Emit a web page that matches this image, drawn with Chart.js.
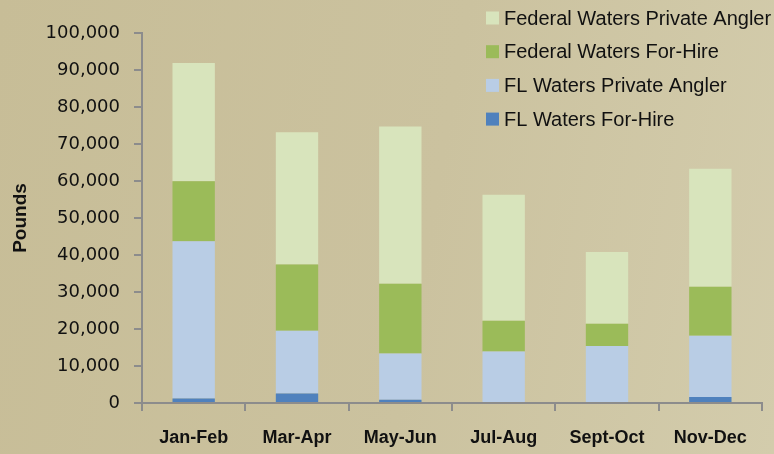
<!DOCTYPE html>
<html>
<head>
<meta charset="utf-8">
<script src="https://cdn.jsdelivr.net/npm/chart.js@4"></script>
<style>
html,body{margin:0;padding:0;width:774px;height:454px;overflow:hidden;
background:linear-gradient(100deg,#c7bd97 0%,#cbc29f 55%,#d3ccac 100%);}
#wrap{position:relative;width:774px;height:454px;}
</style>
</head>
<body>
<div id="wrap"><canvas id="c" width="774" height="454"></canvas></div>
<script>
const categories = ["Jan-Feb","Mar-Apr","May-Jun","Jul-Aug","Sept-Oct","Nov-Dec"];
const flForHire = [1200, 2600, 900, 0, 0, 1600];
const flPrivate = [42500, 16900, 12500, 13900, 15400, 16600];
const fedForHire = [16200, 17900, 18800, 8300, 6000, 13200];
const fedPrivate = [32000, 35800, 42500, 34100, 19400, 31900];
const seriesNames = ["FL Waters For-Hire","FL Waters Private Angler","Federal Waters For-Hire","Federal Waters Private Angler"];
const seriesColors = ["#4f81bd","#b9cde5","#9bbb59","#d8e4bc"];
const yTicks = [0,10000,20000,30000,40000,50000,60000,70000,80000,90000,100000];

const legendPlugin = {
  id: 'customLegend',
  afterDraw(chart) {
    const ctx = chart.ctx;
    const ds = chart.data.datasets.slice().reverse();
    ctx.save();
    ctx.font = '20px "Liberation Sans", Arial, sans-serif';
    ctx.textBaseline = 'middle';
    ctx.textAlign = 'left';
    ds.forEach((d, i) => {
      const y = 18 + i * 33.7;
      ctx.fillStyle = d.backgroundColor;
      ctx.fillRect(486, y - 6.5, 13, 13);
      ctx.fillStyle = '#111';
      ctx.fillText(d.label, 504, y + 1);
    });
    ctx.restore();
  }
};

const data = [flForHire, flPrivate, fedForHire, fedPrivate];
new Chart(document.getElementById('c'), {
  type: 'bar',
  data: {
    labels: categories,
    datasets: data.map((v, i) => ({
      label: seriesNames[i],
      data: v,
      backgroundColor: seriesColors[i],
      borderWidth: 0,
      barPercentage: 0.41,
      categoryPercentage: 1
    }))
  },
  options: {
    responsive: false,
    animation: false,
    devicePixelRatio: 1,
    layout: { padding: { left: 0, right: 12, top: 33, bottom: 0 } },
    plugins: { legend: { display: false }, tooltip: { enabled: false } },
    scales: {
      x: {
        stacked: true,
        afterFit(scale) { scale.height = 51; },
        grid: { drawOnChartArea: false, drawTicks: true, tickLength: 8, color: '#8c8c8c', lineWidth: 2, offset: true },
        border: { display: true, color: '#8c8c8c', width: 2 },
        ticks: { color: '#111', padding: 16, font: { family: '"Liberation Sans", Arial, sans-serif', size: 18, weight: 'bold' } }
      },
      y: {
        stacked: true,
        min: 0, max: 100000,
        afterFit(scale) { scale.width = 142; },
        afterBuildTicks(scale) { scale.ticks = yTicks.map(v => ({ value: v })); },
        grid: { drawOnChartArea: false, drawTicks: true, tickLength: 8, color: '#8c8c8c', lineWidth: 2 },
        border: { display: true, color: '#8c8c8c', width: 2 },
        ticks: {
          color: '#111', padding: 14,
          font: { family: '"DejaVu Sans", sans-serif', size: 18 },
          callback: v => v.toLocaleString('en-US')
        },
        title: { display: true, text: 'Pounds', color: '#111', padding: { top: 9, bottom: 0 },
          font: { family: '"Liberation Sans", Arial, sans-serif', size: 19, weight: 'bold' } }
      }
    }
  },
  plugins: [legendPlugin]
});
</script>
</body>
</html>
